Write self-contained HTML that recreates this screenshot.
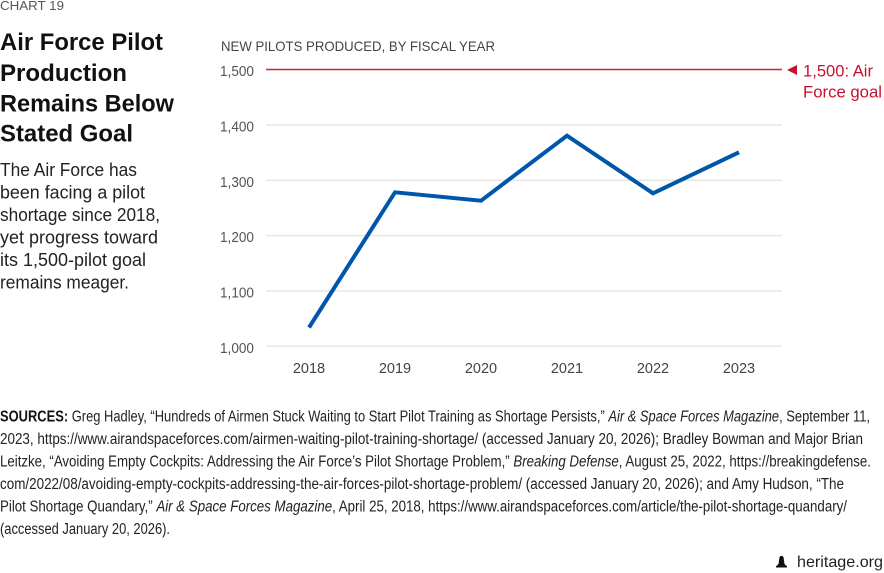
<!DOCTYPE html>
<html><head><meta charset="utf-8"><style>
html,body{margin:0;padding:0;background:#fff;}
svg{display:block;}
text{font-family:"Liberation Sans",sans-serif;}
</style></head><body>
<svg width="884" height="573" viewBox="0 0 884 573" xmlns="http://www.w3.org/2000/svg">
<rect width="884" height="573" fill="#fff"/>
<text x="0" y="10" font-size="12.5" fill="#555" textLength="64" lengthAdjust="spacingAndGlyphs">CHART 19</text>
<g font-size="24" font-weight="bold" fill="#111">
<text x="0" y="50" textLength="163" lengthAdjust="spacingAndGlyphs">Air Force Pilot</text>
<text x="0" y="81" textLength="127" lengthAdjust="spacingAndGlyphs">Production</text>
<text x="0" y="111.5" textLength="174" lengthAdjust="spacingAndGlyphs">Remains Below</text>
<text x="0" y="141.5" textLength="133" lengthAdjust="spacingAndGlyphs">Stated Goal</text>
</g>
<g font-size="18.5" fill="#222">
<text x="0" y="176" textLength="137" lengthAdjust="spacingAndGlyphs">The Air Force has</text>
<text x="0" y="198.5" textLength="145" lengthAdjust="spacingAndGlyphs">been facing a pilot</text>
<text x="0" y="221" textLength="160" lengthAdjust="spacingAndGlyphs">shortage since 2018,</text>
<text x="0" y="243.5" textLength="158" lengthAdjust="spacingAndGlyphs">yet progress toward</text>
<text x="0" y="266" textLength="146" lengthAdjust="spacingAndGlyphs">its 1,500-pilot goal</text>
<text x="0" y="288.5" textLength="129" lengthAdjust="spacingAndGlyphs">remains meager.</text>
</g>
<text x="221" y="51" font-size="14" fill="#444" textLength="274" lengthAdjust="spacingAndGlyphs">NEW PILOTS PRODUCED, BY FISCAL YEAR</text>
<g stroke="#e6e6e6" stroke-width="1.5">
<line x1="266" y1="125" x2="782" y2="125"/>
<line x1="266" y1="180.3" x2="782" y2="180.3"/>
<line x1="266" y1="235.6" x2="782" y2="235.6"/>
<line x1="266" y1="291" x2="782" y2="291"/>
<line x1="266" y1="346.3" x2="782" y2="346.3"/>
</g>
<line x1="266" y1="69.5" x2="782" y2="69.5" stroke="#d3202f" stroke-width="1.5"/>
<g font-size="14.5" fill="#555" text-anchor="end">
<text x="254" y="76" textLength="34" lengthAdjust="spacingAndGlyphs">1,500</text>
<text x="254" y="131.5" textLength="34" lengthAdjust="spacingAndGlyphs">1,400</text>
<text x="254" y="186.8" textLength="34" lengthAdjust="spacingAndGlyphs">1,300</text>
<text x="254" y="242" textLength="34" lengthAdjust="spacingAndGlyphs">1,200</text>
<text x="254" y="297.5" textLength="34" lengthAdjust="spacingAndGlyphs">1,100</text>
<text x="254" y="352.8" textLength="34" lengthAdjust="spacingAndGlyphs">1,000</text>
</g>
<g font-size="14.5" fill="#444" text-anchor="middle">
<text x="309" y="373">2018</text>
<text x="395" y="373">2019</text>
<text x="481" y="373">2020</text>
<text x="567" y="373">2021</text>
<text x="653" y="373">2022</text>
<text x="739" y="373">2023</text>
</g>
<polyline points="309,327.5 395,192.3 481,200.7 567,135.7 653,193.3 739,152.3" fill="none" stroke="#0056aa" stroke-width="4" stroke-linejoin="miter" stroke-linecap="butt"/>
<polygon points="787,70 797,65 797,75" fill="#c8102e"/>
<g font-size="17" fill="#c8102e">
<text x="803" y="76.5" textLength="70" lengthAdjust="spacingAndGlyphs">1,500: Air</text>
<text x="803" y="97.5" textLength="79" lengthAdjust="spacingAndGlyphs">Force goal</text>
</g>
<g font-size="15.5" fill="#222">
<text x="0" y="421.5" textLength="870" lengthAdjust="spacingAndGlyphs"><tspan font-weight="bold" fill="#111">SOURCES:</tspan> Greg Hadley, “Hundreds of Airmen Stuck Waiting to Start Pilot Training as Shortage Persists,” <tspan font-style="italic">Air &amp; Space Forces Magazine</tspan>, September 11,</text>
<text x="0" y="444" textLength="863" lengthAdjust="spacingAndGlyphs">2023, https://www.airandspaceforces.com/airmen-waiting-pilot-training-shortage/ (accessed January 20, 2026); Bradley Bowman and Major Brian</text>
<text x="0" y="466.5" textLength="871" lengthAdjust="spacingAndGlyphs">Leitzke, “Avoiding Empty Cockpits: Addressing the Air Force’s Pilot Shortage Problem,” <tspan font-style="italic">Breaking Defense</tspan>, August 25, 2022, https://breakingdefense.</text>
<text x="0" y="489" textLength="844" lengthAdjust="spacingAndGlyphs">com/2022/08/avoiding-empty-cockpits-addressing-the-air-forces-pilot-shortage-problem/ (accessed January 20, 2026); and Amy Hudson, “The</text>
<text x="0" y="511.5" textLength="847" lengthAdjust="spacingAndGlyphs">Pilot Shortage Quandary,” <tspan font-style="italic">Air &amp; Space Forces Magazine</tspan>, April 25, 2018, https://www.airandspaceforces.com/article/the-pilot-shortage-quandary/</text>
<text x="0" y="534" textLength="170" lengthAdjust="spacingAndGlyphs">(accessed January 20, 2026).</text>
</g>
<g fill="#111">
<path d="M779.5,557 Q781.5,554.5 783.5,557 L784.5,564 L786.5,566 L776.5,566 L778.5,564 Z"/>
<rect x="776" y="566" width="11" height="1.5"/>
</g>
<text x="797" y="567" font-size="16" fill="#222" textLength="86" lengthAdjust="spacingAndGlyphs">heritage.org</text>
</svg>
</body></html>
